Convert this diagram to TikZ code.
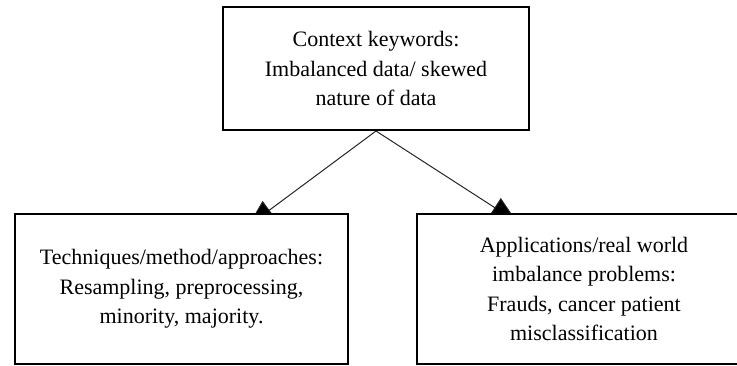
\documentclass[tikz,border=0pt]{standalone}
\usepackage{fontspec}
\setmainfont{Liberation Serif}
\usetikzlibrary{arrows.meta,backgrounds}

\begin{document}
\begin{tikzpicture}[x=0.75pt,y=-0.75pt,
		keybox/.style={draw,line width=1.5pt,fill=white,align=center,inner sep=0pt,
			font=\fontsize{16.5pt}{22pt}\selectfont},
		link/.style={line width=0.75pt,draw=black!85,-{Triangle[length=20pt,width=17pt,fill=black]}}]
				\clip (0,0) rectangle (737,365);
				\node[keybox,minimum width=229.5pt,minimum height=92.25pt] (context) at (376,68.5) {Context keywords:\\Imbalanced data/ skewed\\nature of data};
				\node[keybox,minimum width=249.75pt,minimum height=113pt] (methods) at (181.5,289) {Techniques/method/approaches:\\Resampling, preprocessing,\\minority, majority.};
				\node[keybox,minimum width=250.5pt,minimum height=113pt] (apps) at (584,289) {Applications/real world\\imbalance problems:\\Frauds, cancer patient\\misclassification};
				\coordinate (tipleft) at (248,226);
				\coordinate (tipright) at (517,222);
				\begin{scope}[on background layer]
				\draw[link] (context.south) -- (tipleft);
				\draw[link] (context.south) -- (tipright);
				\end{scope}
				\end{tikzpicture}
\end{document}
